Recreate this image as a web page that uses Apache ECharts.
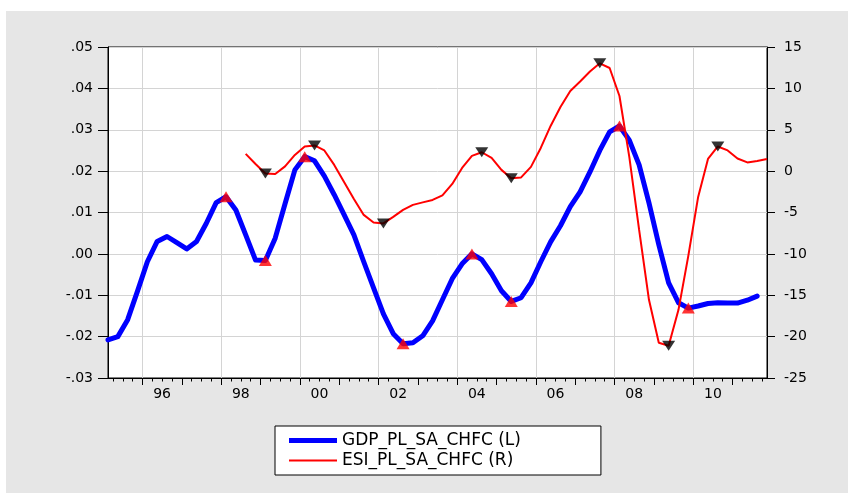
<!DOCTYPE html>
<html><head><meta charset="utf-8">
<script src="https://cdn.jsdelivr.net/npm/echarts@6/dist/echarts.min.js"></script>
<style>
html,body{margin:0;padding:0;background:#fff;}
#wrap{position:relative;width:848px;height:493px;background:#fff;overflow:hidden;}
#panel{position:absolute;left:6px;top:11px;width:842px;height:482px;background:#e6e6e6;}
#c{position:absolute;left:0;top:0;width:848px;height:493px;}
</style>
</head><body>
<div id="wrap"><div id="panel"></div><div id="c"></div></div>
<script>
// ---- data ----
const firstYear = 1995, lastYear = 2011;
const quarters = [];
for (let y = firstYear; y <= lastYear; y++) for (let q = 1; q <= 4; q++) quarters.push(y + 'Q' + q);

const gdpName = 'GDP_PL_SA_CHFC (L)';
const esiName = 'ESI_PL_SA_CHFC (R)';

const gdp = [
  -0.0208, -0.0200, -0.0159, -0.0090,
  -0.0019, 0.0030, 0.0042, 0.0027,
  0.0012, 0.0030, 0.0074, 0.0124,
  0.0138, 0.0106, 0.0046, -0.0015,
  -0.0016, 0.0038, 0.0121, 0.0203,
  0.0235, 0.0225, 0.0188, 0.0143,
  0.0095, 0.0046, -0.0019, -0.0082,
  -0.0145, -0.0193, -0.0217, -0.0215,
  -0.0198, -0.0162, -0.0111, -0.0060,
  -0.0024, 0.0000, -0.0014, -0.0048,
  -0.0089, -0.0115, -0.0106, -0.0070,
  -0.0019, 0.0029, 0.0068, 0.0114,
  0.0150, 0.0198, 0.0250, 0.0295,
  0.0309, 0.0275, 0.0215, 0.0123,
  0.0022, -0.0070, -0.0118, -0.0131,
  -0.0126, -0.0120, -0.0118, -0.0119,
  -0.0119, -0.0112, -0.0102, null
];

const esi = [
  null, null, null, null,
  null, null, null, null,
  null, null, null, null,
  null, null, 2.08, 0.87,
  -0.28, -0.34, 0.57, 1.96,
  2.98, 3.10, 2.50, 0.75,
  -1.30, -3.36, -5.29, -6.20,
  -6.32, -5.53, -4.69, -4.08,
  -3.78, -3.48, -2.93, -1.55,
  0.39, 1.84, 2.28, 1.59,
  0.15, -0.86, -0.76, 0.51,
  2.80, 5.46, 7.75, 9.69,
  10.83, 12.04, 13.03, 12.46,
  9.08, 1.72, -7.10, -15.55,
  -20.75, -21.11, -16.76, -10.24,
  -3.12, 1.47, 2.98, 2.50,
  1.53, 1.05, 1.23, 1.47
];

// turning points (indices into quarters)
const gdpTurns = [12, 16, 20, 30, 37, 41, 52, 59];
const esiTurns = [16, 21, 28, 38, 41, 50, 57, 62];

const yearLabels = ['96', '98', '00', '02', '04', '06', '08', '10'];

// half-quarter steps used for quarter ticks / year grid (positions between observations)
const halfSteps = [];
for (let m = 0; m < quarters.length * 2 - 1; m++) halfSteps.push(m);

// ---- chart ----
const FONT = 'DejaVu Sans';
const chart = echarts.init(document.getElementById('c'), null, {renderer: 'canvas'});

chart.setOption({
  animation: false,
  backgroundColor: 'transparent',
  grid: {left: 108, right: 81, top: 47, bottom: 115, show: true, backgroundColor: '#fff', borderColor: '#000', borderWidth: 1},
  legend: {
    left: 275, top: 426, orient: 'vertical', selectedMode: false,
    itemWidth: 48, itemHeight: 14, itemGap: 3,
    padding: [6, 80, 6, 14],
    backgroundColor: '#fff', borderColor: '#000', borderWidth: 1,
    textStyle: {fontFamily: FONT, fontSize: 17, color: '#000'},
    data: [
      {name: gdpName, icon: 'path://M0,0L48,0L48,5L0,5Z', itemStyle: {color: '#0000ff'}},
      {name: esiName, icon: 'path://M0,0L48,0L48,2L0,2Z', itemStyle: {color: '#ff0000'}}
    ]
  },
  xAxis: [
    {type: 'category', data: quarters, boundaryGap: false, position: 'bottom',
     axisLine: {show: true, onZero: false, lineStyle: {color: '#000', width: 1}}, axisTick: {show: false}, axisLabel: {show: false}, splitLine: {show: false}},
    {type: 'category', data: halfSteps, boundaryGap: false, position: 'bottom',
     axisLine: {show: false, onZero: false},
     axisTick: {show: true, inside: false, length: 3.5, interval: (i) => i % 2 === 1, lineStyle: {color: '#000', width: 1}},
     axisLabel: {show: false}, splitLine: {show: false}},
    {type: 'category', data: halfSteps, boundaryGap: false, position: 'bottom',
     axisLine: {show: false, onZero: false},
     axisTick: {show: true, inside: false, length: 7, interval: (i) => i % 8 === 7, lineStyle: {color: '#000', width: 1}},
     splitLine: {show: true, interval: (i) => i % 16 === 7, lineStyle: {color: '#d4d4d4', width: 1}},
     axisLabel: {show: true, margin: 9, interval: (i) => i % 16 === 11,
       formatter: (v) => { const j = (Number(v) - 11) / 16; return yearLabels[j] || ''; },
       fontFamily: FONT, fontSize: 14, color: '#000'}}
  ],
  yAxis: [
    {type: 'value', min: -0.03, max: 0.05, interval: 0.01, position: 'left',
     axisLine: {show: true, onZero: false, lineStyle: {color: '#000'}},
     axisTick: {show: true, inside: false, length: 10, lineStyle: {color: '#000'}},
     axisLabel: {margin: 15, fontFamily: FONT, fontSize: 14, color: '#000',
       formatter: (v) => { const s = Math.abs(v) < 1e-9 ? '0.00' : v.toFixed(2); return s.replace(/^(-?)0\./, '$1.'); }},
     splitLine: {show: true, lineStyle: {color: '#d4d4d4', width: 1}}},
    {type: 'value', min: -25, max: 15, interval: 5, position: 'right',
     axisLine: {show: true, onZero: false, lineStyle: {color: '#000'}},
     axisTick: {show: true, inside: false, length: 8, lineStyle: {color: '#000'}},
     axisLabel: {margin: 17, fontFamily: FONT, fontSize: 14, color: '#000'},
     splitLine: {show: false}}
  ],
  series: [
    {name: gdpName, type: 'line', xAxisIndex: 0, yAxisIndex: 0, data: gdp, symbol: 'none', z: 2,
     lineStyle: {color: '#0000ff', width: 5, join: 'round', cap: 'round'}, itemStyle: {color: '#0000ff'}},
    {name: esiName, type: 'line', xAxisIndex: 0, yAxisIndex: 1, data: esi, symbol: 'none', z: 3,
     lineStyle: {color: '#ff0000', width: 2}, itemStyle: {color: '#ff0000'}},
    {name: 'GDP turning points', type: 'scatter', xAxisIndex: 0, yAxisIndex: 0, z: 5,
     symbol: 'triangle', symbolSize: [13, 11], itemStyle: {color: '#ff0000'},
     data: gdpTurns.map(i => [quarters[i], gdp[i]])},
    {name: 'ESI turning points', type: 'scatter', xAxisIndex: 0, yAxisIndex: 1, z: 5,
     symbol: 'triangle', symbolRotate: 180, symbolSize: [13, 10], itemStyle: {color: '#000'},
     data: esiTurns.map(i => [quarters[i], esi[i]])}
  ]
});
</script>
</body></html>
